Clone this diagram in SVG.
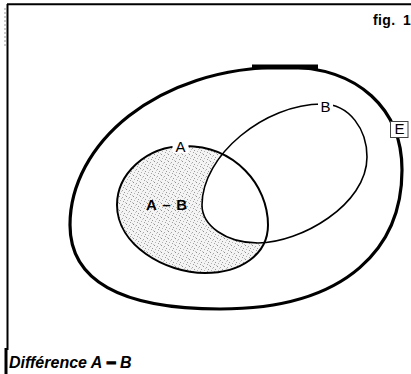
<svg xmlns="http://www.w3.org/2000/svg" width="411" height="374" viewBox="0 0 411 374">
  <defs>
    <pattern id="stipple" width="7" height="7" patternUnits="userSpaceOnUse">
      <rect width="7" height="7" fill="#f4f4f4"/>
      <rect x="0" y="0" width="1" height="1" fill="#8f8f8f"/>
      <rect x="3" y="1" width="1" height="1" fill="#a8a8a8"/>
      <rect x="5" y="3" width="1" height="1" fill="#999"/>
      <rect x="1" y="4" width="1" height="1" fill="#b4b4b4"/>
      <rect x="4" y="5" width="1" height="1" fill="#a0a0a0"/>
      <rect x="6" y="6" width="1" height="1" fill="#c0c0c0"/>
      <rect x="2" y="2" width="1" height="1" fill="#c8c8c8"/>
    </pattern>
  </defs>
  <style>
    .frame { stroke: #000; fill: none; }
    .setE { fill: none; stroke: #000; stroke-width: 3.2; }
    .setA { stroke: #000; stroke-width: 2; fill: none; }
    .setB { stroke: #000; stroke-width: 1.6; fill: none; }
    .lbl { font-family: "Liberation Sans", Arial, sans-serif; font-size: 15px; fill: #000; text-anchor: middle; }
    .bg { fill: #fff; }
  </style>
  <rect width="411" height="374" fill="#fff"/>

  <g id="frame">
    <line class="frame" x1="7" y1="4.3" x2="411" y2="4.3" stroke-width="2"/>
    <line class="frame" x1="7.5" y1="4" x2="7.5" y2="350" stroke-width="2"/>
    <line class="frame" x1="6" y1="348" x2="6" y2="374" stroke-width="3"/>
    <line x1="5" y1="8" x2="5" y2="48" stroke="#999" stroke-width="1" stroke-dasharray="2 2"/>
    <text x="373" y="25" font-family="Liberation Sans, Arial, sans-serif" font-size="14" font-weight="bold" letter-spacing="0.4">fig.</text>
    <text x="403" y="25" font-family="Liberation Sans, Arial, sans-serif" font-size="14" font-weight="bold">1</text>
  </g>

  <g id="E">
    <path class="setE" d="M 285 67 C 360 67, 402 110, 402 170 C 402 245, 350 309, 220 309 C 120 309, 70 280, 70 225 C 70 145, 155 67, 285 67 Z"/>
    <line x1="252" y1="67" x2="318" y2="67" stroke="#000" stroke-width="5"/>
    <rect x="390.5" y="121.5" width="17.5" height="16" fill="#fff" stroke="#444" stroke-width="1"/>
    <text class="lbl" x="399.5" y="134" font-size="12">E</text>
  </g>

  <g id="A">
    <path d="M 185 146 C 235 146, 268 185, 268 225 C 268 255, 240 273, 205 273 C 165 273, 117 245, 117 205 C 117 175, 145 146, 185 146 Z" fill="url(#stipple)" stroke="none"/>
  </g>

  <g id="B">
    <path d="M 322 104 C 350 104, 367 130, 367 157 C 367 205, 300 243, 258 243 C 225 243, 202 225, 202 205 C 202 155, 265 104, 322 104 Z" fill="#fff" stroke="none"/>
  </g>

  <g id="outlines">
    <path class="setA" d="M 185 146 C 235 146, 268 185, 268 225 C 268 255, 240 273, 205 273 C 165 273, 117 245, 117 205 C 117 175, 145 146, 185 146 Z"/>
    <path class="setB" d="M 322 104 C 350 104, 367 130, 367 157 C 367 205, 300 243, 258 243 C 225 243, 202 225, 202 205 C 202 155, 265 104, 322 104 Z"/>
  </g>

  <g id="labels">
    <rect class="bg" x="172.5" y="140" width="16" height="13"/>
    <text class="lbl" x="180.5" y="152">A</text>
    <rect class="bg" x="318" y="98" width="15" height="14"/>
    <text class="lbl" x="325.5" y="111.5">B</text>
    <text x="167" y="210" font-family="Liberation Sans, Arial, sans-serif" font-size="15" font-weight="bold" text-anchor="middle" letter-spacing="0.8">A – B</text>
  </g>

  <g id="caption">
    <text x="9" y="368" font-family="Liberation Sans, Arial, sans-serif" font-size="16" font-weight="bold" font-style="italic">Différence A <tspan stroke="#000" stroke-width="1.6">−</tspan> B</text>
  </g>
</svg>
